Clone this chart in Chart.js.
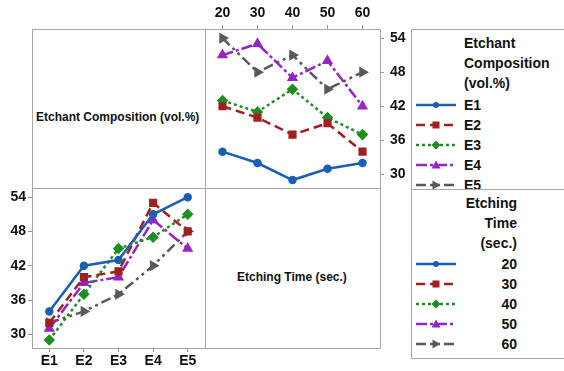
<!DOCTYPE html>
<html>
<head>
<meta charset="utf-8">
<script src="https://cdn.jsdelivr.net/npm/chart.js@4"></script>
<style>
  body { margin: 0; background: #fff; font-family: "Liberation Sans", Arial, sans-serif; font-weight: bold; color: #111; }
  #wrap { position: relative; width: 564px; height: 371px; overflow: hidden; background: #fff; }
  .ln { position: absolute; background: #a8a8a8; }
  canvas { position: absolute; }
  .lbl { position: absolute; font-size: 12px; white-space: nowrap; }
  .lg { position: absolute; overflow: hidden; }
  .lg div { position: absolute; font-size: 14px; white-space: nowrap; line-height: 16px; }
  .lg svg { position: absolute; }
</style>
</head>
<body>
<div id="wrap">
  <!-- matrix frame -->
  <div class="ln" style="left:32px;top:29px;width:349px;height:1px"></div>
  <div class="ln" style="left:32px;top:188px;width:349px;height:1px"></div>
  <div class="ln" style="left:32px;top:348px;width:349px;height:1px"></div>
  <div class="ln" style="left:32px;top:29px;width:1px;height:320px"></div>
  <div class="ln" style="left:205px;top:29px;width:1px;height:320px"></div>
  <div class="ln" style="left:380px;top:29px;width:1px;height:320px"></div>

  <div class="lbl" style="left:36px;top:110px">Etchant Composition (vol.%)</div>
  <div class="lbl" style="left:237px;top:270px">Etching Time (sec.)</div>

  <canvas id="topRight" width="205" height="188" style="left:205px;top:0px"></canvas>
  <canvas id="bottomLeft" width="205" height="183" style="left:0px;top:188px"></canvas>

  <!-- legend box -->
  <div class="ln" style="left:411px;top:29px;width:160px;height:1px"></div>
  <div class="ln" style="left:411px;top:189px;width:160px;height:1px"></div>
  <div class="ln" style="left:411px;top:358px;width:160px;height:1px"></div>
  <div class="ln" style="left:411px;top:29px;width:1px;height:330px"></div>
  <div class="lg" id="legend1" style="left:412px;top:30px;width:152px;height:159px"></div>
  <div class="lg" id="legend2" style="left:412px;top:190px;width:152px;height:168px"></div>
</div>
<script>
const times = ['20', '30', '40', '50', '60'];
const comps = ['E1', 'E2', 'E3', 'E4', 'E5'];
// mean response per composition, one value per etching time
const e1 = [34, 32, 29, 31, 32];
const e2 = [42, 40, 37, 39, 34];
const e3 = [43, 41, 45, 40, 37];
const e4 = [51, 53, 47, 50, 42];
const e5 = [54, 48, 51, 45, 48];
const yTicks = [30, 36, 42, 48, 54];

const rows = [e1, e2, e3, e4, e5];

const colors = ['#1b5fb3', '#a11f1f', '#1c8e22', '#9526c4', '#5a5a5a'];
const dashes = [[], [9, 5], [3, 3], [11, 3, 3, 3], [10, 4, 3, 4, 3, 4]];
const shapes = ['circle', 'rect', 'rectRot', 'triangle', 'triangle'];
const rots = [0, 0, 0, 0, 90];

Chart.defaults.font.family = '"Liberation Sans", Arial, sans-serif';
Chart.defaults.font.weight = 'bold';
Chart.defaults.font.size = 14;
Chart.defaults.color = '#111';

function ds(label, data, i) {
    return {
        label: label,
        data: data,
        borderColor: colors[i],
        backgroundColor: colors[i],
        borderWidth: 2.5,
        borderDash: dashes[i],
        pointStyle: shapes[i],
        pointRotation: rots[i],
        pointRadius: i === 0 ? 3 : 4,
        tension: 0,
        clip: 6,
    };
}

const tickGrid = { drawOnChartArea: false, offset: false, tickLength: 4, color: '#999' };

// fixed axis size, and no extra room for overhanging tick labels
function fixSize(s, key, v) {
    s[key] = v;
    s.paddingTop = s.paddingBottom = s.paddingLeft = s.paddingRight = 0;
}

function yScale(pos, w, pad) {
    return {
        position: pos,
        min: 27.6,
        max: 55.6,
        grid: tickGrid,
        border: { display: false },
        ticks: { padding: pad },
        afterBuildTicks: (s) => { s.ticks = yTicks.map(v => ({ value: v })); },
        afterFit: (s) => fixSize(s, 'width', w),
    };
}

const layout = { padding: 0, autoPadding: false };

// top right: x = etching time, one line per composition
new Chart(document.getElementById('topRight'), {
    type: 'line',
    data: {
        labels: times,
        datasets: rows.map((r, i) => ds(comps[i], r, i)),
    },
    options: {
        responsive: false,
        animation: false,
        layout: layout,
        plugins: { legend: { display: false }, tooltip: { enabled: false } },
        scales: {
            x: {
                type: 'category',
                position: 'top',
                offset: true,
                grid: tickGrid,
                border: { display: false },
                ticks: { padding: 3, maxRotation: 0 },
                afterFit: (s) => fixSize(s, 'height', 29),
            },
            y: yScale('right', 30, 6),
        },
    },
});

// bottom left: x = composition, one line per etching time
new Chart(document.getElementById('bottomLeft'), {
    type: 'line',
    data: {
        labels: comps,
        datasets: times.map((t, j) => ds(t, rows.map(r => r[j]), j)),
    },
    options: {
        responsive: false,
        animation: false,
        layout: layout,
        plugins: { legend: { display: false }, tooltip: { enabled: false } },
        scales: {
            x: {
                type: 'category',
                offset: true,
                grid: tickGrid,
                border: { display: false },
                ticks: { padding: 1, maxRotation: 0 },
                afterFit: (s) => fixSize(s, 'height', 23),
            },
            y: yScale('left', 32, 2),
        },
    },
});

// legend line samples
function sample(i) {
    const c = colors[i];
    const d = dashes[i].length ? ` stroke-dasharray="${dashes[i].join(' ')}"` : '';
    let m = '';
    if (shapes[i] === 'circle') m = `<circle cx="20" cy="6" r="3" fill="${c}"/>`;
    if (shapes[i] === 'rect') m = `<rect x="16.5" y="2.5" width="7" height="7" fill="${c}"/>`;
    if (shapes[i] === 'rectRot') m = `<polygon points="20,1.5 24.5,6 20,10.5 15.5,6" fill="${c}"/>`;
    if (shapes[i] === 'triangle' && rots[i] === 0) m = `<polygon points="20,1.5 24.5,9.5 15.5,9.5" fill="${c}"/>`;
    if (shapes[i] === 'triangle' && rots[i] === 90) m = `<polygon points="24.5,6 16.5,1.5 16.5,10.5" fill="${c}"/>`;
    return `<svg width="40" height="12" viewBox="0 0 40 12"><line x1="0" y1="6" x2="40" y2="6" stroke="${c}" stroke-width="2.5"${d}/>${m}</svg>`;
}

function buildLegend(el, head, names, headAlign, rowTop) {
    let html = '';
    head.forEach((h, k) => {
        const y = 5 + k * 20;
        html += headAlign === 'left'
            ? `<div style="left:52px;top:${y}px">${h}</div>`
            : `<div style="right:47px;top:${y}px">${h}</div>`;
    });
    names.forEach((n, i) => {
        const y = rowTop + i * 20;
        html += `<span style="position:absolute;left:4px;top:${y + 2}px">${sample(i)}</span>`;
        html += headAlign === 'left'
            ? `<div style="left:52px;top:${y}px">${n}</div>`
            : `<div style="right:47px;top:${y}px">${n}</div>`;
    });
    el.innerHTML = html;
}

buildLegend(document.getElementById('legend1'), ['Etchant', 'Composition', '(vol.%)'], comps, 'left', 67);
buildLegend(document.getElementById('legend2'), ['Etching', 'Time', '(sec.)'], times, 'right', 66);
</script>
</body>
</html>
